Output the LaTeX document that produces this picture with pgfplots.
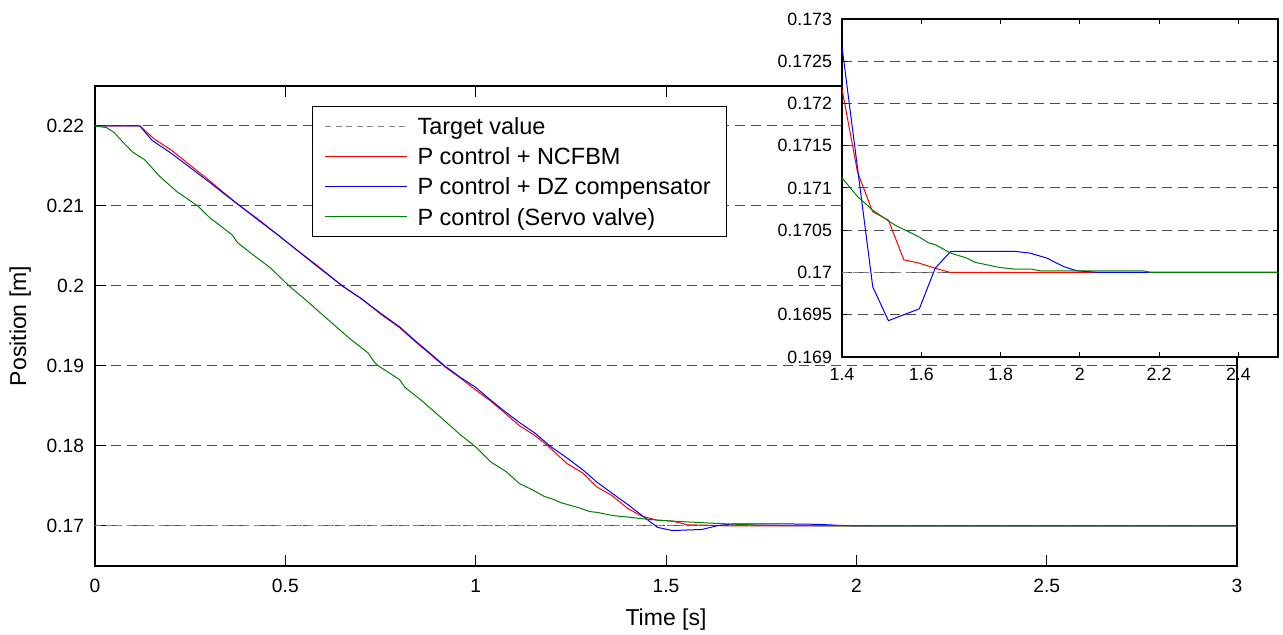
\documentclass[border=0pt]{standalone}
\usepackage{fontspec}
\setmainfont{Liberation Sans}
\usepackage{pgfplots}
\usepackage{pgfplotstable}
\pgfplotsset{compat=1.18}

\definecolor{mgreen}{RGB}{0,128,0}
\newcommand{\lstrut}{\rule[-2.9pt]{0pt}{12.5pt}\hspace{3pt}}

% P control + NCFBM
\pgfplotstableread{
t y
0 0.2200
0.118 0.2200
0.155 0.2184
0.20 0.2170
0.25 0.2151
0.30 0.2132
0.34 0.2116
0.381 0.2100
0.43 0.2083
0.48 0.2064
0.53 0.2045
0.58 0.2027
0.65 0.2000
0.70 0.1984
0.75 0.1965
0.80 0.1948
0.84 0.1931
0.88 0.1915
0.919 0.1899
0.96 0.1885
1.00 0.1870
1.04 0.1856
1.077 0.1841
1.116 0.1825
1.156 0.1813
1.19 0.1800
1.24 0.1778
1.282 0.1766
1.318 0.1749
1.358 0.1738
1.40 0.17217
1.439 0.17119
1.477 0.17072
1.517 0.17062
1.556 0.17015
1.595 0.17011
1.635 0.17005
1.674 0.1700
3.0 0.1700
}\ncfbm

% P control + DZ compensator
\pgfplotstableread{
t y
0 0.2200
0.118 0.2200
0.15 0.2182
0.20 0.2166
0.25 0.2148
0.30 0.2130
0.34 0.2115
0.381 0.2100
0.43 0.2082
0.48 0.2064
0.53 0.2045
0.58 0.2026
0.65 0.2000
0.70 0.1984
0.75 0.1966
0.80 0.1949
0.84 0.1932
0.88 0.1916
0.919 0.1900
0.959 0.1886
0.998 0.1874
1.038 0.1858
1.077 0.1843
1.116 0.1829
1.156 0.1816
1.195 0.1800
1.24 0.1785
1.282 0.1770
1.318 0.1755
1.358 0.1741
1.40 0.17267
1.4775 0.16983
1.517 0.16943
1.595 0.16957
1.635 0.17005
1.674 0.17025
1.836 0.17025
1.874 0.17023
1.917 0.17017
1.959 0.17007
1.992 0.17002
2.05 0.1700
3.0 0.1700
}\dzcomp

% P control (Servo valve)
\pgfplotstableread{
t y
0 0.2200
0.03 0.2198
0.05 0.2192
0.075 0.2179
0.10 0.2167
0.13 0.2158
0.17 0.2137
0.215 0.2118
0.27 0.2100
0.30 0.2086
0.36 0.2064
0.375 0.2054
0.415 0.2039
0.46 0.2023
0.51 0.2000
0.55 0.1984
0.60 0.1963
0.67 0.1934
0.718 0.1916
0.735 0.1904
0.745 0.1900
0.80 0.1883
0.815 0.1873
0.855 0.1858
0.915 0.1833
0.96 0.1814
1.00 0.1799
1.04 0.1780
1.08 0.1768
1.115 0.1753
1.15 0.1745
1.18 0.1737
1.20 0.1734
1.225 0.1729
1.27 0.1723
1.30 0.1718
1.32 0.1717
1.36 0.1713
1.40 0.17112
1.439 0.1709
1.477 0.17074
1.517 0.17061
1.538 0.17055
1.556 0.17051
1.595 0.17042
1.618 0.17035
1.635 0.17033
1.674 0.17023
1.715 0.17017
1.736 0.17012
1.797 0.17006
1.836 0.17004
1.878 0.17004
1.899 0.17002
2.16 0.17002
2.18 0.1700
3.0 0.1700
}\servo

\pgfplotsset{
  common/.style={
    scale only axis,
    anchor=south west,
    tick align=inside,
    xtick pos=both, ytick pos=both,
    xticklabel pos=lower, yticklabel pos=left,
    ymajorgrids,
    grid style={black!70, dash pattern=on 5pt off 3pt, line width=0.5pt},
    axis line style={line width=0.6pt},
    tick style={black, line width=0.5pt},
    scaled ticks=false,
  },
  target/.style={black!50, line width=0.5pt, dash pattern=on 3pt off 2.3pt},
}

\begin{document}
\begin{tikzpicture}
\begin{axis}[common,
  name=main, at={(0pt,0pt)},
  width=571pt, height=240pt,
  xmin=0, xmax=3, ymin=0.165, ymax=0.225,
  major tick length=5.5pt,
  xtick={0,0.5,1,1.5,2,2.5,3},
  xticklabels={0,0.5,1,1.5,2,2.5,3},
  ytick={0.17,0.18,0.19,0.2,0.21,0.22},
  yticklabels={0.17,0.18,0.19,0.2,0.21,0.22},
  tick label style={font=\fontsize{9.6}{11}\selectfont},
  xticklabel style={yshift=-3pt},
  yticklabel style={xshift=-2pt},
  xlabel={Time [s]}, ylabel={Position [m]},
  label style={font=\fontsize{11.5}{13}\selectfont},
  xlabel style={at={(axis description cs:0.5,-0.1125)}, anchor=center},
  ylabel style={at={(axis description cs:-0.0656,0.5)}, anchor=center},
  legend style={at={(0.19,0.958)}, anchor=north west,
    line width=0.6pt, font=\fontsize{11.75}{14}\selectfont,
    inner xsep=6pt, inner ysep=2.25pt, row sep=0pt},
  legend cell align=left,
  legend image post style={xscale=2.4},
]
\addplot[target] coordinates {(0,0.17) (3,0.17)};
\addlegendentry{\lstrut Target value}
\addplot[red, line width=0.5pt] table[x=t, y=y] {\ncfbm};
\addlegendentry{\lstrut P control + NCFBM}
\addplot[blue, line width=0.5pt] table[x=t, y=y] {\dzcomp};
\addlegendentry{\lstrut P control + DZ compensator}
\addplot[mgreen, line width=0.5pt] table[x=t, y=y] {\servo};
\addlegendentry{\lstrut P control (Servo valve)}
\end{axis}

\begin{axis}[common,
  at={(373.5pt,104.5pt)},
  width=218pt, height=169pt,
  axis background/.style={fill=white},
  xmin=1.4, xmax=2.5, ymin=0.169, ymax=0.173,
  major tick length=2.5pt,
  xtick={1.4,1.6,1.8,2,2.2,2.4},
  xticklabels={1.4,1.6,1.8,2,2.2,2.4},
  ytick={0.169,0.1695,0.17,0.1705,0.171,0.1715,0.172,0.1725,0.173},
  yticklabels={0.169,0.1695,0.17,0.1705,0.171,0.1715,0.172,0.1725,0.173},
  tick label style={font=\fontsize{8.9}{10}\selectfont},
  xticklabel style={yshift=-2pt},
  yticklabel style={xshift=-1.5pt},
]
\addplot[target] coordinates {(1.4,0.17) (2.5,0.17)};
\addplot[red, line width=0.5pt] table[x=t, y=y] {\ncfbm};
\addplot[blue, line width=0.5pt] table[x=t, y=y] {\dzcomp};
\addplot[mgreen, line width=0.5pt] table[x=t, y=y] {\servo};
\end{axis}
\pgfresetboundingbox
\useasboundingbox (-47.5pt,-34.5pt) rectangle (594pt,283pt);
\end{tikzpicture}
\end{document}
